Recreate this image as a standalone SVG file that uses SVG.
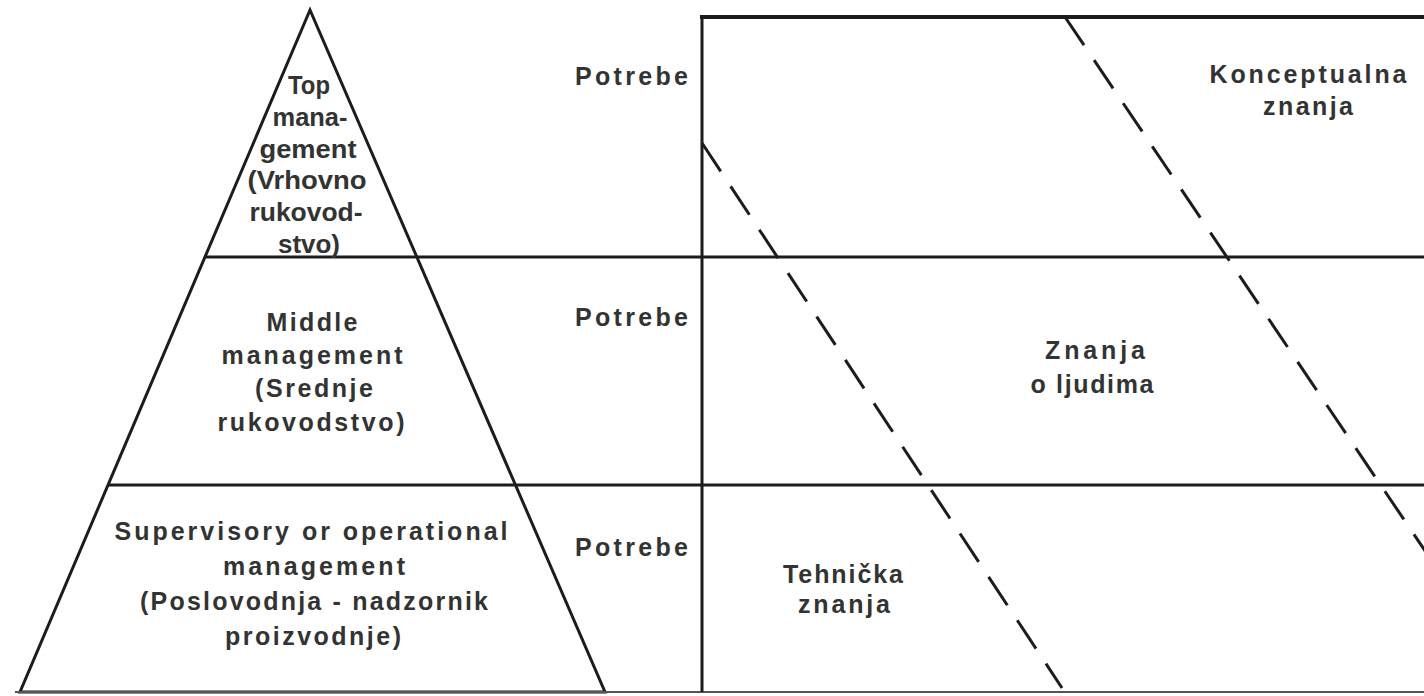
<svg xmlns="http://www.w3.org/2000/svg" width="1424" height="696" viewBox="0 0 1424 696">
<style>
.ln{stroke:#1c1c1c;stroke-width:3;fill:none;stroke-linecap:butt}
.thick{stroke:#1c1c1c;stroke-width:4;fill:none}
.dash{stroke:#1c1c1c;stroke-width:3;fill:none;stroke-dasharray:34 18}
.t{font-family:"Liberation Sans",Arial,sans-serif;font-size:25px;font-weight:bold;fill:#333;text-anchor:middle}
.p{font-family:"Liberation Sans",Arial,sans-serif;font-size:25px;font-weight:bold;fill:#333}
</style>
<rect width="1424" height="696" fill="#fff"/>
<g id="frame">
<polygon class="ln" points="310,10 20,692 605,692"/>
<line class="ln" x1="205" y1="257" x2="1424" y2="257"/>
<line class="ln" x1="108" y1="485" x2="1424" y2="485"/>
<line x1="15" y1="692" x2="1424" y2="692" stroke="#555" stroke-width="2"/>
<line class="thick" x1="700" y1="17" x2="1424" y2="17"/>
<line class="ln" x1="702" y1="15" x2="702" y2="692"/>
</g>
<g id="top-management">
<text class="t" x="309" y="94" textLength="42" lengthAdjust="spacingAndGlyphs">Top</text>
<text class="t" x="310" y="126" textLength="75" lengthAdjust="spacingAndGlyphs">mana-</text>
<text class="t" x="308" y="158" textLength="97" lengthAdjust="spacingAndGlyphs">gement</text>
<text class="t" x="307" y="189" textLength="119" lengthAdjust="spacingAndGlyphs">(Vrhovno</text>
<text class="t" x="306" y="221" textLength="113" lengthAdjust="spacingAndGlyphs">rukovod-</text>
<text class="t" x="309" y="253" textLength="62" lengthAdjust="spacingAndGlyphs">stvo)</text>
</g>
<g id="middle-management">
<text class="t" x="312" y="331" textLength="91" lengthAdjust="spacing">Middle</text>
<text class="t" x="312" y="364" textLength="181" lengthAdjust="spacing">management</text>
<text class="t" x="314" y="397" textLength="118" lengthAdjust="spacing">(Srednje</text>
<text class="t" x="311" y="431" textLength="187" lengthAdjust="spacing">rukovodstvo)</text>
</g>
<g id="supervisory-management">
<text class="t" x="311" y="540" textLength="393" lengthAdjust="spacing">Supervisory or operational</text>
<text class="t" x="314" y="575" textLength="182" lengthAdjust="spacing">management</text>
<text class="t" x="314" y="610" textLength="348" lengthAdjust="spacing">(Poslovodnja - nadzornik</text>
<text class="t" x="313" y="645" textLength="176" lengthAdjust="spacing">proizvodnje)</text>
</g>
<g id="potrebe-labels">
<text class="p" x="575" y="85" textLength="113" lengthAdjust="spacing">Potrebe</text>
<text class="p" x="575" y="326" textLength="113" lengthAdjust="spacing">Potrebe</text>
<text class="p" x="575" y="556" textLength="113" lengthAdjust="spacing">Potrebe</text>
</g>
<g id="konceptualna">
<text class="t" x="1308" y="83" textLength="197" lengthAdjust="spacing">Konceptualna</text>
<text class="t" x="1308" y="115" textLength="90" lengthAdjust="spacing">znanja</text>
</g>
<g id="ljudi">
<text class="t" x="1095" y="359" textLength="100" lengthAdjust="spacing">Znanja</text>
<text class="t" x="1092" y="393" textLength="123" lengthAdjust="spacing">o ljudima</text>
</g>
<g id="tehnicka">
<text class="t" x="843" y="583" textLength="120" lengthAdjust="spacing">Tehnička</text>
<text class="t" x="844" y="613" textLength="92" lengthAdjust="spacing">znanja</text>
</g>
<g id="connectors">
<line class="dash" x1="702" y1="143" x2="1062" y2="688"/>
<line class="dash" x1="1065" y1="17" x2="1440" y2="573"/>
</g>
</svg>
